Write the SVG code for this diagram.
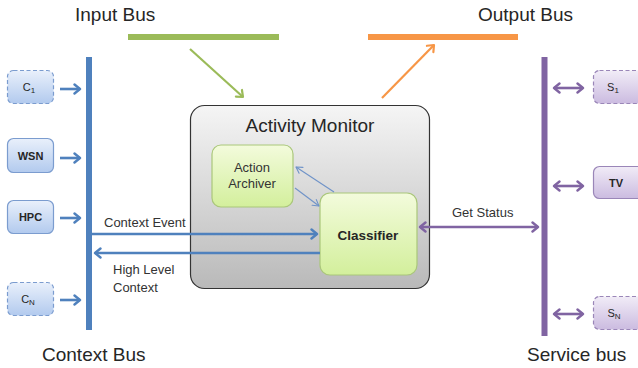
<svg xmlns="http://www.w3.org/2000/svg" width="638" height="368" viewBox="0 0 638 368">
  <defs>
    <linearGradient id="gBlue" x1="0" y1="0" x2="0" y2="1">
      <stop offset="0" stop-color="#e9f0fb"/>
      <stop offset="1" stop-color="#b2caee"/>
    </linearGradient>
    <linearGradient id="gPurple" x1="0" y1="0" x2="0" y2="1">
      <stop offset="0" stop-color="#f1ecf7"/>
      <stop offset="1" stop-color="#cbbbe0"/>
    </linearGradient>
    <linearGradient id="gGreen" x1="0" y1="0" x2="0" y2="1">
      <stop offset="0" stop-color="#f3fbdc"/>
      <stop offset="1" stop-color="#d3ef9c"/>
    </linearGradient>
    <linearGradient id="gGray" x1="0" y1="0" x2="0" y2="1">
      <stop offset="0" stop-color="#f5f5f5"/>
      <stop offset="1" stop-color="#b9b9b9"/>
    </linearGradient>
    <marker id="hBlue" viewBox="-8 -6 10 12" refX="0" refY="0" markerWidth="10" markerHeight="12" markerUnits="userSpaceOnUse" orient="auto-start-reverse">
      <path d="M-5.5,-4.5 L0,0 L-5.5,4.5" fill="none" stroke="#4f81bd" stroke-width="2.4" stroke-linecap="round" stroke-linejoin="round"/>
    </marker>
    <marker id="hBlueThin" viewBox="-8 -6 10 12" refX="0" refY="0" markerWidth="10" markerHeight="12" markerUnits="userSpaceOnUse" orient="auto-start-reverse">
      <path d="M-6,-3.5 L0,0 L-6,3.5" fill="none" stroke="#6f93c8" stroke-width="1.1" stroke-linecap="round" stroke-linejoin="round"/>
    </marker>
    <marker id="hPurple" viewBox="-8 -6 10 12" refX="0" refY="0" markerWidth="10" markerHeight="12" markerUnits="userSpaceOnUse" orient="auto-start-reverse">
      <path d="M-5.5,-4.5 L0,0 L-5.5,4.5" fill="none" stroke="#8064a2" stroke-width="2.4" stroke-linecap="round" stroke-linejoin="round"/>
    </marker>
    <marker id="hGreen" viewBox="-8 -6 10 12" refX="0" refY="0" markerWidth="10" markerHeight="12" markerUnits="userSpaceOnUse" orient="auto">
      <path d="M-5.5,-4.5 L0,0 L-5.5,4.5" fill="none" stroke="#9bbb59" stroke-width="2.2" stroke-linecap="round" stroke-linejoin="round"/>
    </marker>
    <marker id="hOrange" viewBox="-8 -6 10 12" refX="0" refY="0" markerWidth="10" markerHeight="12" markerUnits="userSpaceOnUse" orient="auto">
      <path d="M-5.5,-4.5 L0,0 L-5.5,4.5" fill="none" stroke="#f79646" stroke-width="2.2" stroke-linecap="round" stroke-linejoin="round"/>
    </marker>
  </defs>
  <style>
    text { font-family: "Liberation Sans", Arial, sans-serif; fill: #262626; }
    .title { font-size: 19px; }
    .lbl { font-size: 13px; fill: #333; }
    .boxlbl { font-size: 11px; font-weight: bold; text-anchor: middle; }
    .sublbl { font-size: 11px; text-anchor: middle; }
    .cbox { fill: url(#gBlue); stroke: #7b9ccf; stroke-width: 1.2; }
    .sbox { fill: url(#gPurple); stroke: #9a86b8; stroke-width: 1.2; }
    .dash { stroke-dasharray: 4 2.5; }
    .gbox { fill: url(#gGreen); stroke: #aac77a; stroke-width: 1.2; }
    .bus { stroke-width: 6; stroke-linecap: butt; }
    .blueArrow { stroke: #4f81bd; stroke-width: 2.6; fill: none; marker-end: url(#hBlue); }
    .purpleArrow { stroke: #8064a2; stroke-width: 2.6; fill: none; marker-start: url(#hPurple); marker-end: url(#hPurple); }
  </style>

  <!-- bus titles -->
  <text class="title" x="75" y="21">Input Bus</text>
  <text class="title" x="478" y="21">Output Bus</text>
  <text class="title" x="42" y="361">Context Bus</text>
  <text class="title" x="527" y="361">Service bus</text>

  <!-- buses -->
  <g id="input-bus"><line class="bus" x1="128" y1="37" x2="279" y2="37" stroke="#9bbb59"/></g>
  <g id="output-bus"><line class="bus" x1="368" y1="37" x2="518" y2="37" stroke="#f79646"/></g>
  <g id="context-bus"><line class="bus" x1="89" y1="57" x2="89" y2="330" stroke="#4f81bd"/></g>
  <g id="service-bus"><line class="bus" x1="544.5" y1="57" x2="544.5" y2="336" stroke="#8064a2"/></g>

  <!-- activity monitor container -->
  <g id="activity-monitor">
    <rect x="190.5" y="105.5" width="239" height="183" rx="14" fill="url(#gGray)" stroke="#333" stroke-width="1.2"/>
    <text class="title" x="310" y="132" text-anchor="middle">Activity Monitor</text>
  </g>

  <g id="action-archiver">
    <rect class="gbox" x="212" y="145" width="81" height="62" rx="9"/>
    <text class="lbl" x="252" y="172" text-anchor="middle">Action</text>
    <text class="lbl" x="252" y="188" text-anchor="middle">Archiver</text>
  </g>

  <g id="classifier">
    <rect class="gbox" x="320" y="193" width="97" height="82" rx="10"/>
    <text x="368" y="240" text-anchor="middle" font-size="13.5" font-weight="bold" fill="#111">Classifier</text>
  </g>

  <!-- context sources -->
  <g id="c1">
    <rect class="cbox dash" x="7.5" y="70.5" width="46" height="33" rx="6"/>
    <text class="sublbl" x="29" y="91">C<tspan font-size="8" dy="2">1</tspan></text>
  </g>
  <g id="wsn">
    <rect class="cbox" x="7.5" y="138.5" width="46" height="34" rx="6"/>
    <text class="boxlbl" x="30.5" y="160">WSN</text>
  </g>
  <g id="hpc">
    <rect class="cbox" x="7.5" y="200.5" width="46" height="33" rx="6"/>
    <text class="boxlbl" x="30.5" y="221">HPC</text>
  </g>
  <g id="cn">
    <rect class="cbox dash" x="7.5" y="282.5" width="46" height="33" rx="6"/>
    <text class="sublbl" x="28" y="303">C<tspan font-size="8" dy="2">N</tspan></text>
  </g>

  <!-- services -->
  <g id="s1">
    <rect class="sbox dash" x="593.5" y="70.5" width="50" height="33" rx="6"/>
    <text class="sublbl" x="613" y="91">S<tspan font-size="8" dy="2">1</tspan></text>
  </g>
  <g id="tv">
    <rect class="sbox" x="593.5" y="166.5" width="50" height="32" rx="6"/>
    <text class="boxlbl" x="616" y="187">TV</text>
  </g>
  <g id="sn">
    <rect class="sbox dash" x="593.5" y="296.5" width="50" height="33" rx="6"/>
    <text class="sublbl" x="614" y="317">S<tspan font-size="8" dy="2">N</tspan></text>
  </g>

  <!-- connectors -->
  <g id="connectors">
    <line class="blueArrow" x1="60" y1="89" x2="80" y2="89"/>
    <line class="blueArrow" x1="60" y1="158" x2="80" y2="158"/>
    <line class="blueArrow" x1="60" y1="218" x2="80" y2="218"/>
    <line class="blueArrow" x1="60" y1="300" x2="80" y2="300"/>

    <line class="purpleArrow" x1="554" y1="88" x2="583" y2="88"/>
    <line class="purpleArrow" x1="554" y1="186" x2="583" y2="186"/>
    <line class="purpleArrow" x1="554" y1="314" x2="583" y2="314"/>

    <line x1="190" y1="49" x2="243" y2="97" stroke="#9bbb59" stroke-width="2.2" marker-end="url(#hGreen)"/>
    <line x1="382" y1="98" x2="434" y2="45" stroke="#f79646" stroke-width="2.2" marker-end="url(#hOrange)"/>

    <line class="blueArrow" x1="92" y1="234" x2="317" y2="234"/>
    <line x1="320" y1="253" x2="95" y2="253" stroke="#4f81bd" stroke-width="2.6" marker-end="url(#hBlue)"/>
    <line x1="420" y1="227" x2="538" y2="227" stroke="#8064a2" stroke-width="2.6" marker-start="url(#hPurple)" marker-end="url(#hPurple)"/>

    <line x1="334" y1="192" x2="296" y2="167" stroke="#6f93c8" stroke-width="1.1" marker-end="url(#hBlueThin)"/>
    <line x1="295" y1="188" x2="319" y2="206" stroke="#6f93c8" stroke-width="1.1" marker-end="url(#hBlueThin)"/>
  </g>

  <!-- connector labels -->
  <text class="lbl" x="104" y="227">Context Event</text>
  <text class="lbl" x="113" y="274">High Level</text>
  <text class="lbl" x="113" y="292">Context</text>
  <text class="lbl" x="452" y="217" font-size="12.5">Get Status</text>
</svg>
